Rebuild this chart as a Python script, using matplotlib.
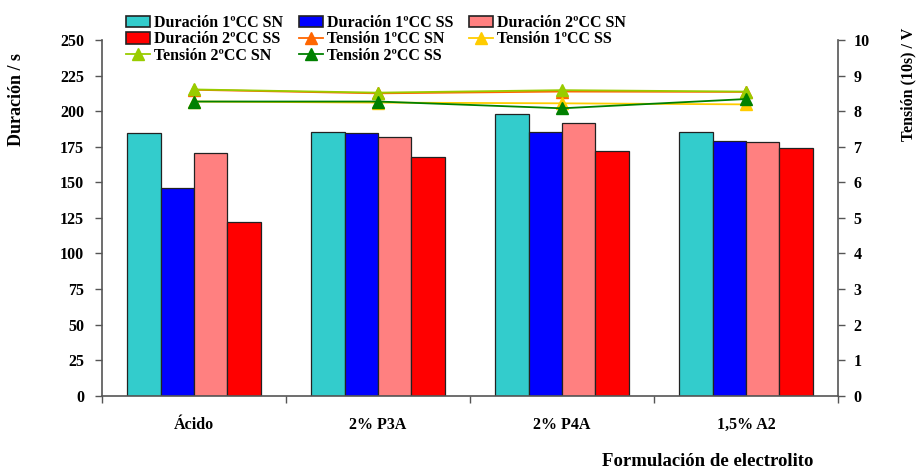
import numpy as np
import matplotlib
matplotlib.use("Agg")
import matplotlib.pyplot as plt
from matplotlib.patches import Patch
from matplotlib.lines import Line2D

plt.rcParams["font.family"] = ["Liberation Serif", "DejaVu Serif"]
plt.rcParams["font.weight"] = "bold"

categories = ["Ácido", "2% P3A", "2% P4A", "1,5% A2"]

# Duración (s)
dur_1cc_sn = [184.8, 185.1, 198.2, 185.6]
dur_1cc_ss = [145.8, 184.8, 185.1, 179.2]
dur_2cc_sn = [170.6, 182.0, 191.7, 178.5]
dur_2cc_ss = [121.9, 167.5, 172.0, 174.1]

# Tensión a 10 s (V)
ten_1cc_sn = [8.60, 8.50, 8.55, 8.54]
ten_1cc_ss = [8.27, 8.24, 8.22, 8.19]
ten_2cc_sn = [8.61, 8.52, 8.59, 8.55]
ten_2cc_ss = [8.27, 8.27, 8.08, 8.34]

dur_labels = ["Duración 1ºCC SN", "Duración 1ºCC SS", "Duración 2ºCC SN", "Duración 2ºCC SS"]
ten_labels = ["Tensión 1ºCC SN", "Tensión 1ºCC SS", "Tensión 2ºCC SN", "Tensión 2ºCC SS"]
bar_colors = ["#33CCCC", "#0000FF", "#FF8080", "#FF0000"]
line_colors = ["#FF6600", "#FFCC00", "#99CC00", "#008000"]

W, H = 916, 470
fig = plt.figure(figsize=(W / 100, H / 100), dpi=100)
ax = fig.add_axes([102 / W, (H - 395.7) / H, 736 / W, 355.7 / H])
ax2 = ax.twinx()

x = np.arange(len(categories))
bw = 0.182
durs = [dur_1cc_sn, dur_1cc_ss, dur_2cc_sn, dur_2cc_ss]
for i, (vals, c) in enumerate(zip(durs, bar_colors)):
    ax.bar(x + (i - 1.5) * bw, vals, width=bw, color=c,
           edgecolor="#222222", linewidth=0.9, zorder=2)

tens = [ten_1cc_sn, ten_1cc_ss, ten_2cc_sn, ten_2cc_ss]
for vals, c in zip(tens, line_colors):
    ax2.plot(x, vals, color=c, linewidth=1.3, marker="^", markersize=9,
             markeredgecolor=c, zorder=3)

ax.set_xlim(-0.5, len(categories) - 0.5)
ax.set_ylim(0, 250)
ax.set_yticks(np.arange(0, 251, 25))
ax2.set_ylim(0, 10)
ax2.set_yticks(np.arange(0, 11, 1))

ax.set_xticks(x)
ax.set_xticklabels(categories)
ax.set_xticks(np.arange(-0.5, len(categories), 1), minor=True)
ax.tick_params(axis="x", which="major", length=0, pad=15, labelsize=11.5)
ax.tick_params(axis="x", which="minor", length=5, width=1, color="#555555")
ax.tick_params(axis="y", length=5, width=1, color="#555555", labelsize=11.5, pad=8)
ax2.tick_params(axis="y", length=5, width=1, color="#555555", labelsize=11.5, pad=6)

for a in (ax, ax2):
    a.spines["top"].set_visible(False)
    for s in ("left", "right", "bottom"):
        a.spines[s].set_color("#555555")
        a.spines[s].set_linewidth(1.2)
ax2.spines["left"].set_visible(False)
ax2.spines["bottom"].set_visible(False)
ax.spines["right"].set_visible(False)

fig.text(17 / W, 1 - 100 / H, "Duración / s", rotation=90, ha="center",
         va="center", fontsize=13, fontweight="bold")
fig.text(908 / W, 1 - 84 / H, "Tensión (10s) / V", rotation=90, ha="center",
         va="center", fontsize=11.5, fontweight="bold")
fig.text(708 / W, 1 - 462 / H, "Formulación de electrolito", ha="center",
         va="center", fontsize=13.5, fontweight="bold")

handles = [Patch(facecolor=c, edgecolor="#222222", linewidth=1.2) for c in bar_colors]
handles += [Line2D([0], [0], color=c, linewidth=1.3, marker="^", markersize=8)
            for c in line_colors]
labels = dur_labels + ten_labels
order = [0, 3, 6, 1, 4, 7, 2, 5]
fig.legend([handles[i] for i in order], [labels[i] for i in order],
           ncol=3, loc="upper left", bbox_to_anchor=(126 / W, 1 - 15 / H),
           frameon=False, fontsize=11.5, handlelength=1.5, handleheight=0.75,
           handletextpad=0.25, columnspacing=1.0, labelspacing=0.03,
           borderaxespad=0, borderpad=0)

fig.savefig("out.png", dpi=100)
